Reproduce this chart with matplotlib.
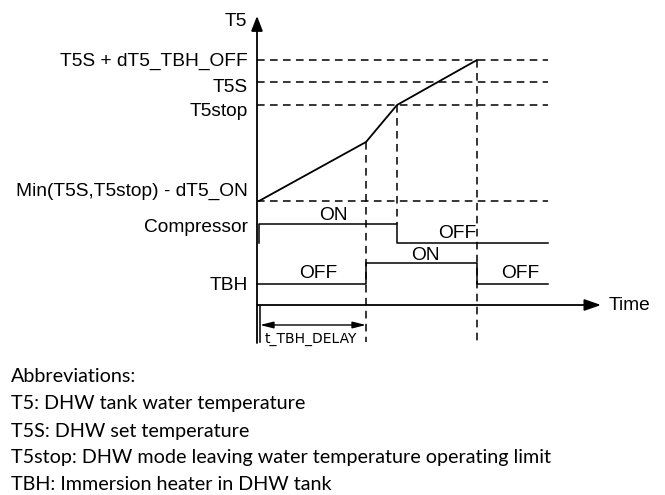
import matplotlib.pyplot as plt

# Temperature levels (y, in diagram units, top = 0) and their labels
level_labels = ["T5S + dT5_TBH_OFF", "T5S", "T5stop", "Min(T5S,T5stop) - dT5_ON"]
level_y = [60, 82, 105, 201]
label_y = [61, 88, 112, 191]

# Event times along the time axis
t_start, t_delay, t_comp_off, t_tbh_off, t_end = 259, 366, 397, 477, 548

# T5 curve
t5_t = [t_start, t_delay, t_comp_off, t_tbh_off]
t5_y = [201, 142, 105, 60]

# Compressor and TBH signal traces
comp_t = [t_start, t_start, t_comp_off, t_comp_off, t_end]
comp_y = [243, 224, 224, 243, 243]
tbh_t = [257, t_delay, t_delay, t_tbh_off, t_tbh_off, t_end]
tbh_y = [284, 284, 263, 263, 284, 284]

state_labels = [("ON", 333, 215), ("OFF", 457, 233), ("OFF", 318, 273),
                ("ON", 425, 255), ("OFF", 520, 273)]

abbrev = ["Abbreviations:",
          "T5: DHW tank water temperature",
          "T5S: DHW set temperature",
          "T5stop: DHW mode leaving water temperature operating limit",
          "TBH: Immersion heater in DHW tank"]

fig = plt.figure(figsize=(6.65, 4.95), dpi=100)
ax = fig.add_axes([0, 0, 1, 1])
ax.set_xlim(0, 665)
ax.set_ylim(495, 0)
ax.axis("off")

lw = 1.1
dash = (0, (5, 3.5))
font = ["Liberation Sans", "DejaVu Sans"]
fs = 13.8

# dashed guide lines
for y in level_y:
    ax.plot([257, t_end], [y, y], color="black", lw=lw, ls=dash)
ax.plot([t_delay, t_delay], [142, 342], color="black", lw=lw, ls=dash)
ax.plot([t_comp_off, t_comp_off], [105, 224], color="black", lw=lw, ls=dash)
ax.plot([t_tbh_off, t_tbh_off], [60, 342], color="black", lw=lw, ls=dash)

# axes
ax.annotate("", xy=(257, 16), xytext=(257, 343),
            arrowprops=dict(arrowstyle="-|>,head_length=0.9,head_width=0.35",
                            color="black", lw=1.3, shrinkA=0, shrinkB=0))
ax.annotate("", xy=(601, 305), xytext=(257, 305),
            arrowprops=dict(arrowstyle="-|>,head_length=1.0,head_width=0.35",
                            color="black", lw=1.3, shrinkA=0, shrinkB=0))
ax.plot([260, 260], [306, 342], color="black", lw=lw)

# curves and signals
ax.plot(t5_t, t5_y, color="black", lw=1.3)
ax.plot(comp_t, comp_y, color="black", lw=lw)
ax.plot(tbh_t, tbh_y, color="black", lw=lw)

# delay dimension
ax.annotate("", xy=(t_delay, 325), xytext=(260, 325),
            arrowprops=dict(arrowstyle="<|-|>,head_length=0.8,head_width=0.2",
                            color="black", lw=1.0, shrinkA=0, shrinkB=0))
ax.text(311, 339, "t_TBH_DELAY", ha="center", va="center",
        fontsize=10, family=["Liberation Sans Narrow", "DejaVu Sans"])

# labels
ax.text(247, 21, "T5", ha="right", va="center", fontsize=fs, family=font)
for lab, y in zip(level_labels, label_y):
    ax.text(248, y, lab, ha="right", va="center", fontsize=fs, family=font)
ax.text(248, 227, "Compressor", ha="right", va="center", fontsize=fs, family=font)
ax.text(248, 285, "TBH", ha="right", va="center", fontsize=fs, family=font)
ax.text(609, 306, "Time", ha="left", va="center", fontsize=fs, family=font)
for s, x, y in state_labels:
    ax.text(x, y, s, ha="center", va="center", fontsize=fs, family=font)

for i, line in enumerate(abbrev):
    ax.text(11, 377 + i * 27, line, ha="left", va="center", fontsize=14.2,
            family=["Lato", "DejaVu Sans"])

fig.savefig("out.png", dpi=100)
